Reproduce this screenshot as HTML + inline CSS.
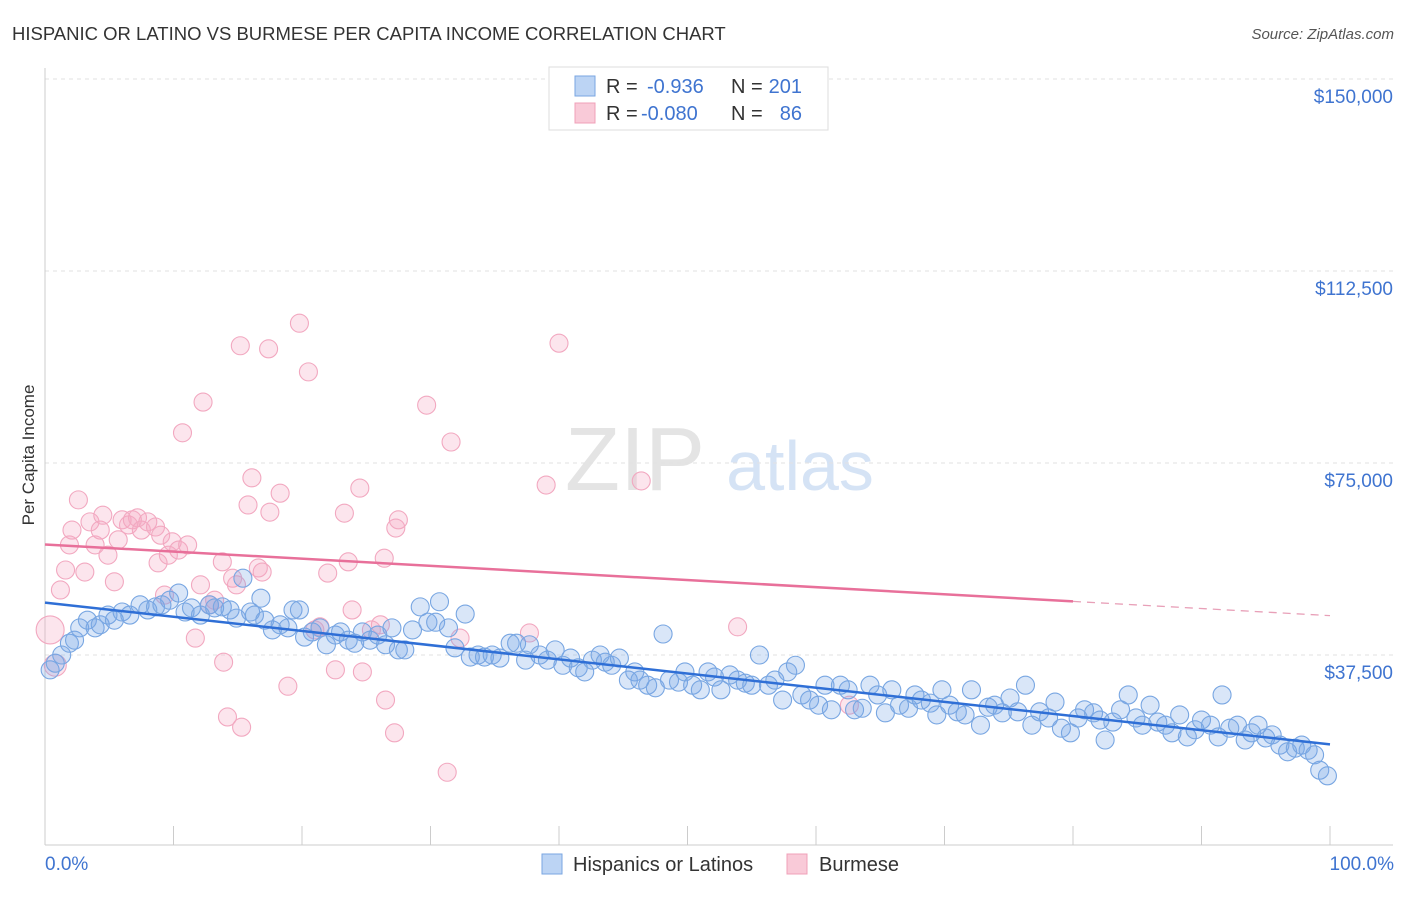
<!DOCTYPE html>
<html><head><meta charset="utf-8"><style>
body{margin:0;background:#fff;font-family:"Liberation Sans",sans-serif;}
svg text{font-family:"Liberation Sans",sans-serif;}
</style></head><body>
<svg id="c" width="1406" height="892">
<text x="12" y="40" font-size="18.5" fill="#333">HISPANIC OR LATINO VS BURMESE PER CAPITA INCOME CORRELATION CHART</text>
<text x="1394" y="39" font-size="15" fill="#555" text-anchor="end" font-style="italic">Source: ZipAtlas.com</text>
<text x="34" y="455" font-size="17" fill="#333" transform="rotate(-90 34 455)" text-anchor="middle">Per Capita Income</text>
<text x="635" y="490" font-size="90" fill="#e4e4e4" font-family="Liberation Serif" text-anchor="middle">ZIP</text>
<text x="800" y="490" font-size="70" fill="#d5e3f5" text-anchor="middle">atlas</text>
<g id="grid"></g><g id="marks"></g>
<g>
<rect x="549" y="67" width="279" height="63" fill="#fff" stroke="#ddd"/>
<rect x="575" y="76" width="20" height="20" fill="#bcd4f4" stroke="#7aa6e2"/>
<rect x="575" y="103" width="20" height="20" fill="#f9cad8" stroke="#f0a0b8"/>
<g font-size="20" fill="#333">
<text x="606" y="93">R =</text>
<text x="647" y="93" fill="#3f74d0">-0.936</text>
<text x="731" y="93">N =</text>
<text x="802" y="93" fill="#3f74d0" text-anchor="end">201</text>
<text x="606" y="120">R =</text>
<text x="641" y="120" fill="#3f74d0">-0.080</text>
<text x="731" y="120">N =</text>
<text x="802" y="120" fill="#3f74d0" text-anchor="end">86</text>
</g>
</g>
<g>
<rect x="542" y="854" width="20" height="20" fill="#bcd4f4" stroke="#7aa6e2"/>
<text x="573" y="871" font-size="20" fill="#333">Hispanics or Latinos</text>
<rect x="787" y="854" width="20" height="20" fill="#f9cad8" stroke="#f0a0b8"/>
<text x="819" y="871" font-size="20" fill="#333">Burmese</text>
</g>
</svg>
<script>
const yTicks=[37500,75000,112500,150000];
const yTickLabels=["$37,500","$75,000","$112,500","$150,000"];
const xTickLabels=["0.0%","100.0%"];
const blueX=[0.4,0.8,1.3,1.9,2.3,2.7,3.3,3.9,4.3,4.9,5.4,6,6.6,7.4,8,8.6,9.1,9.7,10.4,10.9,11.4,12.1,12.8,13.2,13.8,14.4,14.9,15.4,16,16.3,16.8,17.1,17.7,18.3,18.9,19.3,19.8,20.2,20.8,21.4,21.9,22.6,23,23.6,24.1,24.7,25.3,25.9,26.5,27,27.5,28,28.6,29.2,29.8,30.4,30.7,31.4,31.9,32.7,33.1,33.7,34.2,34.8,35.4,36.2,36.7,37.4,37.7,38.5,39.1,39.7,40.3,40.9,41.5,42,42.6,43.2,43.6,44.1,44.7,45.4,45.9,46.3,46.9,47.5,48.1,48.6,49.3,49.8,50.4,51,51.6,52.1,52.6,53.3,53.9,54.5,55,55.6,56.3,56.8,57.4,57.8,58.4,58.9,59.5,60.2,60.7,61.2,61.9,62.5,63,63.6,64.2,64.8,65.4,65.9,66.5,67.2,67.7,68.2,68.9,69.4,69.8,70.4,71,71.6,72.1,72.8,73.4,73.9,74.5,75.1,75.7,76.3,76.8,77.4,78.1,78.6,79.1,79.8,80.4,80.9,81.6,82.1,82.5,83.1,83.7,84.3,84.9,85.4,86,86.6,87.2,87.7,88.3,88.9,89.5,90,90.7,91.3,91.6,92.2,92.8,93.4,93.9,94.4,95,95.5,96.1,96.7,97.3,97.8,98.3,98.8,99.2,99.8];
const blueY=[34.6,35.9,37.5,39.8,40.4,42.8,44.3,42.8,43.4,45.3,44.3,45.9,45.3,47.3,46.3,46.9,47.3,48.2,49.6,45.9,46.7,45.3,47.3,46.7,46.9,46.3,44.7,52.5,45.9,45.3,48.6,44.3,42.4,43.4,42.8,46.3,46.3,41,42,42.8,39.5,41.4,42,40.4,39.8,42,40.4,41.4,39.5,42.8,38.5,38.5,42.4,46.9,43.9,43.9,47.9,42.8,38.9,45.5,37.1,37.5,37.1,37.5,36.9,39.8,39.8,36.5,39.5,37.5,36.5,38.5,35.5,36.9,35,34.2,36.5,37.5,36.1,35.5,36.9,32.6,34.2,32.6,31.6,31.1,41.6,32.6,32.2,34.2,31.6,30.7,34.2,33.2,30.7,33.6,32.6,32,31.6,37.5,31.6,32.6,28.7,34.2,35.5,29.7,28.7,27.7,31.6,26.8,31.6,30.7,26.8,27.1,31.6,29.7,26.2,30.7,27.7,27.1,29.7,28.7,28.1,25.8,30.7,27.7,26.4,25.8,30.7,23.8,27.3,27.7,26.2,29.1,26.4,31.6,23.8,26.4,25.2,28.3,23.2,22.3,25.2,26.8,26.2,24.8,20.9,24.4,26.8,29.7,25.2,23.8,27.7,24.4,23.8,22.3,25.8,21.5,22.9,24.8,23.8,21.5,29.7,23.2,23.8,20.9,22.3,23.8,21.3,21.9,19.9,18.6,19.3,19.9,18.9,18,15,13.9];
const pinkX=[0.4,0.8,1.2,1.6,1.9,2.1,2.6,3.1,3.5,3.9,4.3,4.5,4.9,5.4,5.7,6,6.5,6.8,7.2,7.5,8,8.6,8.8,9,9.3,9.6,9.9,10.4,10.7,11.1,11.7,12.1,12.3,12.8,13.2,13.8,13.9,14.2,14.6,14.9,15.2,15.3,15.8,16.1,16.6,16.9,17.4,17.5,18.3,18.9,19.8,20.5,21,21.4,22,22.6,23.3,23.6,23.9,24.5,24.7,25.4,26.1,26.4,26.5,27.2,27.3,27.5,29.7,31.3,31.6,32.3,37.7,39,40,46.4,53.9,62.6];
const pinkY=[42.4,35.5,50.2,54.1,59,61.9,67.8,53.7,63.5,59,61.9,64.8,57,51.8,60,63.9,62.9,63.9,64.3,61.9,63.5,62.5,55.5,60.9,49.2,57,59.6,58,80.9,59,40.8,51.2,86.9,47.3,48.2,55.7,36.1,25.4,52.5,51.2,97.9,23.4,66.8,72.1,54.5,53.7,97.3,65.4,69.1,31.4,102.3,92.8,42.4,43,53.5,34.6,65.2,55.7,46.3,70.1,34.2,42.4,43.4,56.4,28.7,22.3,62.3,63.9,86.3,14.6,79.1,40.8,41.8,70.7,98.4,71.5,43,27.7];
const NS="http://www.w3.org/2000/svg";
const X0=45,X1=1330,YB=847,PPK=5.12;
function sx(p){return X0+(X1-X0)*p/100;}
function sy(k){return YB-k*PPK;}
function mk(t,a,parent){const e=document.createElementNS(NS,t);for(const k in a)e.setAttribute(k,a[k]);parent.appendChild(e);return e;}
const grid=document.getElementById('grid'),marks=document.getElementById('marks');
const gl=mk('line',{x1:X0,x2:1394,y1:sy(150),y2:sy(150),stroke:'#ddd','stroke-dasharray':'4,4'},grid);

yTicks.forEach((v,i)=>{
 const l=mk('line',{x1:X0,x2:1394,y1:sy(v/1000),y2:sy(v/1000),stroke:'#e2e2e2','stroke-dasharray':'4,4'},grid);
 
 
 const t=mk('text',{x:1393,y:sy(v/1000)+24,'font-size':19,fill:'#3f74d0','text-anchor':'end'},grid);
 t.textContent=yTickLabels[i];
 
 
});
const ax=mk('line',{x1:X0,x2:X1+63,y1:845,y2:845,stroke:'#ccc'},grid);

const ay=mk('line',{x1:X0,x2:X0,y1:68,y2:845,stroke:'#ccc'},grid);

for(let i=0;i<=10;i++){
 const l=mk('line',{x1:sx(i*10),x2:sx(i*10),y1:826,y2:845,stroke:'#ccc'},grid);
 
 
}
[[0,'start',45],[100,'end',1394]].forEach((d,i)=>{
 const t=mk('text',{x:d[2],y:870,'font-size':19,fill:'#3f74d0','text-anchor':d[1]},grid);
 t.textContent=xTickLabels[i];
 
 
});
function reg(xs,ys){const n=xs.length;let mx=0,my=0;xs.forEach((x,i)=>{mx+=x;my+=ys[i];});mx/=n;my/=n;let a=0,b=0;xs.forEach((x,i)=>{a+=(x-mx)*(ys[i]-my);b+=(x-mx)*(x-mx);});const s=a/b;return [s,my-s*mx];}
function dots(xs,ys,fill,stroke,name){xs.forEach((x,i)=>{
 const c=mk('circle',{cx:sx(x),cy:sy(ys[i]),r:(i<2&&name==='burmese-point')?(i==0?14:11):9,fill:fill,stroke:stroke,'stroke-width':1.1},marks);
 
 
});}
dots(pinkX,pinkY,'rgba(246,170,195,0.3)','#f2a8c0','burmese-point');
dots(blueX,blueY,'rgba(120,165,230,0.28)','#78a6e2','hispanic-point');
const rb=reg(blueX,blueY);
const lb=mk('line',{x1:sx(0),y1:sy(rb[1]),x2:sx(100),y2:sy(rb[1]+rb[0]*100),stroke:'#2f6fd6','stroke-width':2.5},marks);

const rp=reg(pinkX,pinkY);
const lp=mk('line',{x1:sx(0),y1:sy(rp[1]),x2:sx(80),y2:sy(rp[1]+rp[0]*80),stroke:'#e8709a','stroke-width':2.5},marks);

const lpd=mk('line',{x1:sx(80),y1:sy(rp[1]+rp[0]*80),x2:sx(100),y2:sy(rp[1]+rp[0]*100),stroke:'#e8a0b8','stroke-width':1.3,'stroke-dasharray':'8,6'},marks);

</script>
</body></html>
